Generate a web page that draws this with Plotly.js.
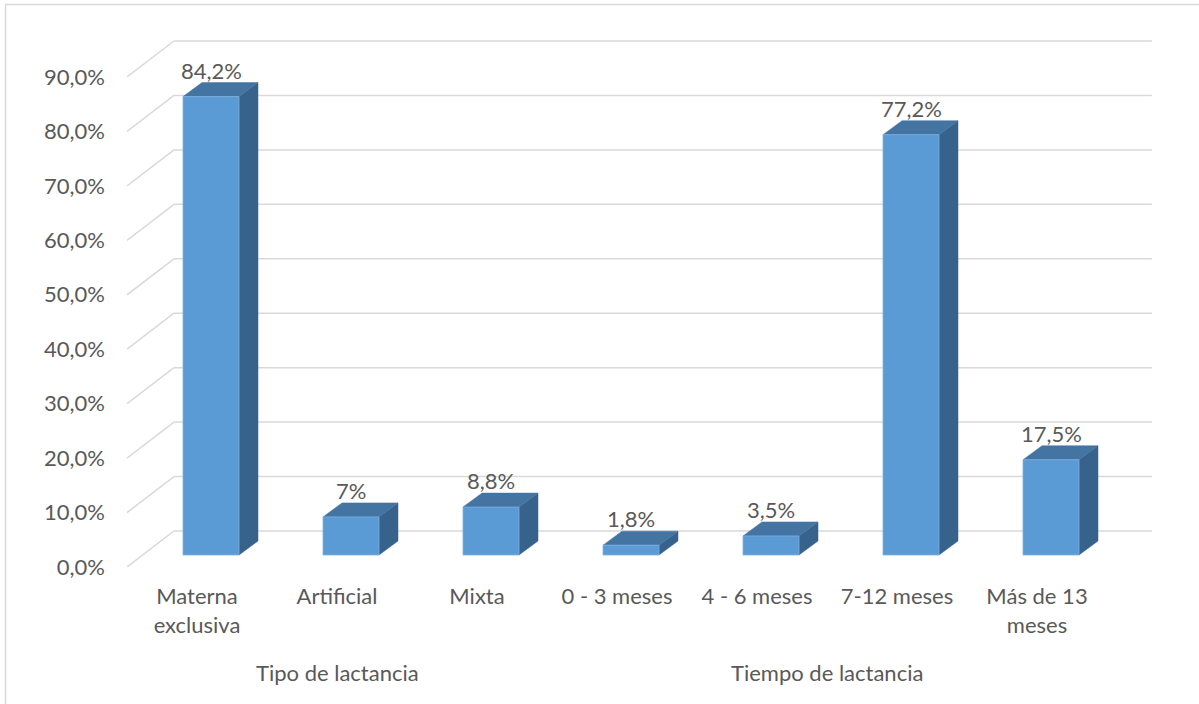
<!DOCTYPE html>
<html>
<head>
<meta charset="utf-8">
<script src="https://cdn.plot.ly/plotly-3.0.1.min.js"></script>
<style>html,body{margin:0;padding:0;background:#fff;}#chart{width:1199px;height:704px;}</style>
</head>
<body>
<div id="chart"></div>
<script>
// ---- data ----
var categories = ["Materna<br>exclusiva", "Artificial", "Mixta", "0 - 3 meses", "4 - 6 meses", "7-12 meses", "Más de 13<br>meses"];
var values = [84.2, 7.0, 8.8, 1.8, 3.5, 77.2, 17.5];
var valueLabels = ["84,2%", "7%", "8,8%", "1,8%", "3,5%", "77,2%", "17,5%"];
var groups = ["Tipo de lactancia", "Tiempo de lactancia"];
var groupCenters = [1, 4.5];
var yTicks = [0, 10, 20, 30, 40, 50, 60, 70, 80, 90];
var yTickLabels = ["0,0%", "10,0%", "20,0%", "30,0%", "40,0%", "50,0%", "60,0%", "70,0%", "80,0%", "90,0%"];

// ---- geometry (pixel scale of axes) ----
var W = 1199, H = 704, ML = 127, MB = 137;
var PX_X = 140;            // px per category
var PX_Y = 490 / 90;       // px per percent
var plotW = W - ML, plotH = H - MB;
var xr = [-0.5, -0.5 + plotW / PX_X];
var yr = [0, plotH / PX_Y];

var gdx = 47 / PX_X, gdy = 36 / PX_Y;        // depth of the wall
var bdx = 19 / PX_X, bdy = 14 / PX_Y;        // depth of each bar
var floorY = 12 / PX_Y;                      // bar sits part-way into depth
var shift = 14 / PX_X;                       // matching horizontal shift
var bw = 56 / PX_X;                          // bar width

var FONT = "Lato, 'Open Sans', sans-serif";
var TXT = "#595959";
var GRID = "#D9D9D9";
var FRONT = "#5B9BD5", TOP = "#4474A2", SIDE = "#37628B";

var idx = categories.map(function (_, i) { return i; });

var shapes = [];
// 3D gridlines (wall + floor diagonals)
yTicks.forEach(function (t) {
  shapes.push({type: "line", xref: "x", yref: "y", layer: "below",
    x0: xr[0], y0: t, x1: xr[0] + gdx, y1: t + gdy,
    line: {color: GRID, width: 1.5}});
  shapes.push({type: "line", xref: "x", yref: "y", layer: "below",
    x0: xr[0] + gdx, y0: t + gdy, x1: categories.length - 0.5 + gdx - 0.015, y1: t + gdy,
    line: {color: GRID, width: 1.5}});
});
// bar top and side faces
function P(pts) {
  return "M" + pts.map(function (p) { return p[0] + "," + p[1]; }).join(" L") + " Z";
}
values.forEach(function (v, i) {
  var xl = i + shift - bw / 2, xrr = i + shift + bw / 2;
  var y0 = floorY, y1 = floorY + v;
  shapes.push({type: "path", xref: "x", yref: "y", layer: "below",
    path: P([[xrr, y0], [xrr + bdx, y0 + bdy], [xrr + bdx, y1 + bdy], [xrr, y1]]),
    fillcolor: SIDE, line: {color: SIDE, width: 0.5}});
  shapes.push({type: "path", xref: "x", yref: "y", layer: "below",
    path: P([[xl, y1], [xl + bdx, y1 + bdy], [xrr + bdx, y1 + bdy], [xrr, y1]]),
    fillcolor: TOP, line: {color: TOP, width: 0.5}});
});
// outer chart border (only top and left are inside the picture)
shapes.push({type: "rect", xref: "paper", yref: "paper",
  x0: (5.5 - ML) / plotW, x1: 1.02, y0: -0.4, y1: (plotH - 4.5) / plotH,
  line: {color: GRID, width: 1.5}, fillcolor: "rgba(0,0,0,0)"});

var annotations = [];
values.forEach(function (v, i) {
  annotations.push({x: i + shift, y: floorY + v + bdy, xref: "x", yref: "y",
    text: valueLabels[i], showarrow: false, xanchor: "center", yanchor: "bottom",
    yshift: -3, font: {family: FONT, size: 22, color: TXT}});
});
groups.forEach(function (g, k) {
  annotations.push({x: groupCenters[k], y: -(673 - plotH) / plotH, xref: "x", yref: "paper",
    text: g, showarrow: false, xanchor: "center", yanchor: "middle",
    font: {family: FONT, size: 22, color: TXT}});
});

var trace = {
  type: "bar", x: idx, y: values, base: floorY, width: bw, offset: shift - bw / 2,
  marker: {color: FRONT, line: {color: "#7DB0DF", width: 0.8}},
  hoverinfo: "skip", showlegend: false
};

var layout = {
  width: W, height: H,
  margin: {l: ML, r: 0, t: 0, b: MB, pad: 0},
  paper_bgcolor: "#fff", plot_bgcolor: "rgba(0,0,0,0)",
  separators: ",.",
  font: {family: FONT, size: 22, color: TXT},
  showlegend: false,
  xaxis: {range: xr, tickmode: "array", tickvals: idx, ticktext: categories,
    showgrid: false, zeroline: false, showline: false, ticks: "",
    ticklabelstandoff: 14, tickfont: {family: FONT, size: 22, color: TXT}, fixedrange: true},
  yaxis: {range: yr, tickmode: "array", tickvals: yTicks, ticktext: yTickLabels,
    showgrid: false, zeroline: false, showline: false, ticks: "",
    ticklabelstandoff: 21, tickfont: {family: FONT, size: 22, color: TXT}, fixedrange: true},
  shapes: shapes,
  annotations: annotations
};

Plotly.newPlot("chart", [trace], layout, {displayModeBar: false, staticPlot: true});
</script>
</body>
</html>
